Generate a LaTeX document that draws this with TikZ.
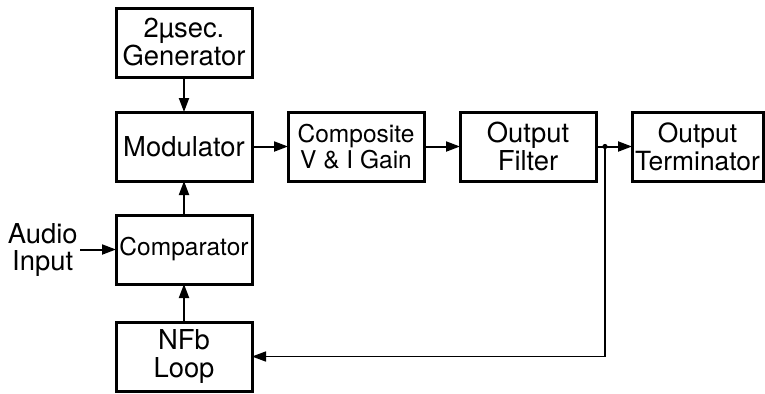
\documentclass[tikz,border=0pt]{standalone}
\usepackage{fontspec}
\setmainfont{TeX Gyre Heros}
\usetikzlibrary{arrows.meta,positioning}
\tikzset{
  blk/.style  ={draw,line width=1.5pt,align=center,inner sep=1pt,outer sep=0pt,
                minimum width=68pt,minimum height=34.5pt,
                font=\fontsize{13.7}{14}\selectfont},
  blks/.style ={blk,font=\fontsize{12.25}{13}\selectfont},
  lbl/.style  ={align=center,inner sep=1pt,font=\fontsize{13.7}{13.5}\selectfont},
  flow/.style ={-{Triangle[length=7pt,width=5pt]},line width=1pt},
  fb/.style   ={flow,line width=0.8pt},
}
\begin{document}
\begin{tikzpicture}[node distance=17.5pt and 18pt]
  \useasboundingbox (0,0) rectangle (382.5pt,-196.5pt);
  % main chain
  \node[blk] (gen) at (92pt,-21.25pt) {2µsec.\\Generator};
  \node[blk,below=of gen] (mod) {Modulator};
  \node[blks,right=of mod] (gain) {Composite\\V \& I Gain};
  \node[blk,right=of gain] (filt) {Output\\Filter};
  \node[blk,right=of filt,minimum width=65.5pt,
        font=\fontsize{13.2}{14}\selectfont] (term) {Output\\Terminator};
  % input side
  \node[blks,below=17pt of mod] (comp) {Comparator};
  \node[blk,below=19pt of comp] (nfb) {NFb\\Loop};
  \node[lbl,left=18pt of comp] (ain) {Audio\\Input};
  \draw[flow] (gen) -- (mod);
  \draw[flow] (mod) -- (gain);
  \draw[flow] (gain) -- (filt);
  \draw[flow] (filt) -- (term);
  \draw[flow] (comp) -- (mod);
  \draw[flow] (nfb) -- (comp);
  \draw[flow] (ain) -- (comp);
  % feedback tap after the output filter
  \coordinate[right=4.5pt of filt.east] (tap);
  \fill (tap) circle (1.3pt);
  \draw[fb] (tap) |- (nfb);
\end{tikzpicture}
\end{document}
